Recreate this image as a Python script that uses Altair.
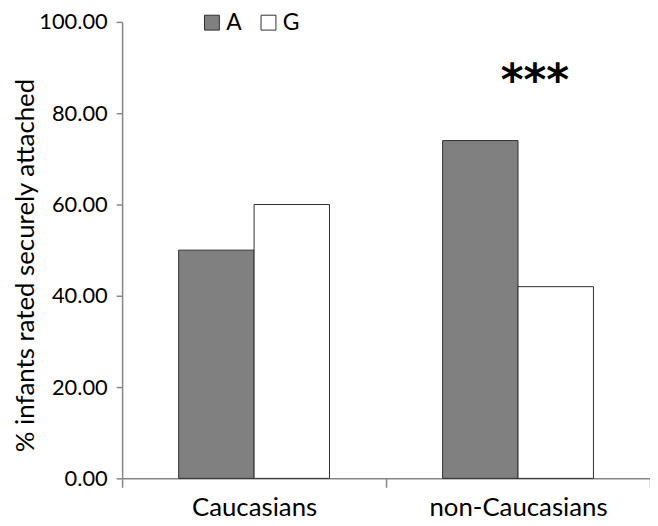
import altair as alt
import pandas as pd

groups = ["Caucasians", "Caucasians", "non-Caucasians", "non-Caucasians"]
conditions = ["A", "G", "A", "G"]
values = [50.0, 60.0, 74.0, 42.0]

star_group = ["non-Caucasians"]
star_value = [84.0]
star_text = ["***"]

df = pd.DataFrame({"group": groups, "cond": conditions, "value": values})
stars = pd.DataFrame({"group": star_group, "value": star_value, "label": star_text})

FONT = "Lato"

xscale = alt.Scale(paddingInner=0, paddingOuter=0)
yscale = alt.Scale(domain=[0, 100])

bars = alt.Chart(df).mark_bar(stroke="#2f2f2f", strokeWidth=1).encode(
    x=alt.X("group:N", scale=xscale, sort=None,
            axis=alt.Axis(title=None, labelAngle=0, tickBand="extent",
                          labelFontSize=26, labelPadding=7, tickSize=9)),
    xOffset=alt.XOffset("cond:N", sort=None,
                        scale=alt.Scale(paddingInner=0, paddingOuter=0.75)),
    y=alt.Y("value:Q", scale=yscale,
            axis=alt.Axis(title="% infants rated securely attached",
                          values=[0, 20, 40, 60, 80, 100], format=".2f",
                          labelFontSize=22, tickSize=6, labelPadding=9,
                          titleFontSize=26, titleFontWeight="normal",
                          titleX=-97, titleY=245, titleAngle=270,
                          titleAlign="center", titleBaseline="middle",
                          grid=False)),
    fill=alt.Fill("cond:N", sort=None,
                  scale=alt.Scale(domain=["A", "G"], range=["#808080", "#ffffff"]),
                  legend=alt.Legend(title=None, orient="none", legendX=79, legendY=-11,
                                    direction="horizontal", symbolType="square",
                                    symbolSize=225, symbolStrokeColor="#2f2f2f",
                                    symbolStrokeWidth=1, labelFontSize=23,
                                    labelOffset=3, columnPadding=15)),
)

text = alt.Chart(stars).mark_text(fontSize=44, fontWeight="bold", font="DejaVu Sans",
                                  dx=17, baseline="alphabetic", color="#000000").encode(
    x=alt.X("group:N", scale=xscale, sort=None),
    y=alt.Y("value:Q", scale=yscale),
    text="label:N",
)

chart = alt.layer(bars, text).properties(
    width=532, height=460,
    autosize=alt.AutoSizeParams(type="none"),
    padding={"left": 115, "top": 12, "right": 0, "bottom": 46},
).configure_view(stroke=None).configure_axis(
    domainColor="#868686", tickColor="#868686", domainWidth=1.5, tickWidth=1.5,
    labelColor="#000000", titleColor="#000000", labelFont=FONT, titleFont=FONT,
).configure_legend(labelFont=FONT, labelColor="#000000")

chart.save("out.html", embed_options={"renderer": "svg", "actions": False})
